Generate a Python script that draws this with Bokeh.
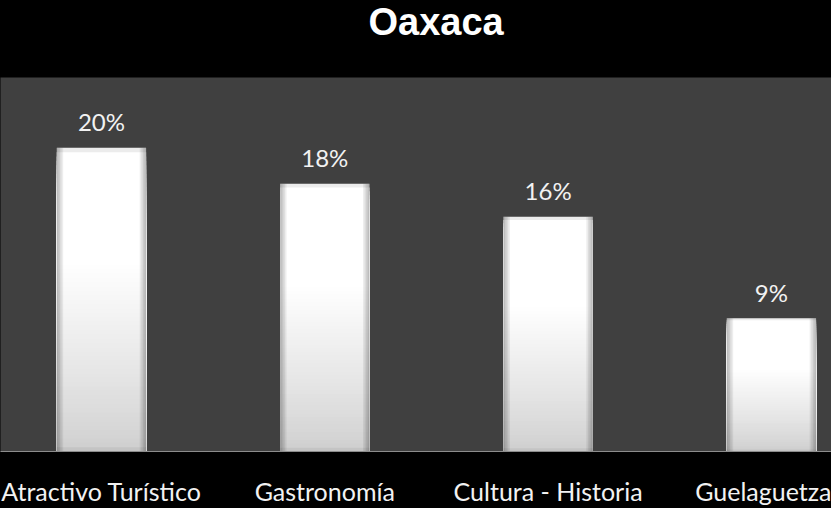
import numpy as np
from bokeh.plotting import figure
from bokeh.layouts import column
from bokeh.models import Range1d, FixedTicker, ColumnDataSource
from bokeh.core.properties import value
from bokeh.embed import file_html
from bokeh.resources import INLINE

title_text = "Oaxaca"
categories = ["Atractivo Turístico", "Gastronomía", "Cultura - Historia", "Guelaguetza"]
shares = [20.3, 17.9, 15.7, 8.9]
share_labels = ["20%", "18%", "16%", "9%"]

positions = list(range(len(categories)))
BAR_W = 0.4

# title band
t = figure(width=831, height=77, output_backend="svg", toolbar_location=None,
           x_axis_location=None, y_axis_location=None,
           min_border_left=0, min_border_right=0, min_border_top=0, min_border_bottom=0,
           background_fill_color="#000000", border_fill_color="#000000",
           outline_line_color=None, styles={"background-color": "#000000"})
t.grid.visible = False
t.title.text = title_text
t.title.text_font = "Liberation Sans"
t.title.text_font_style = "bold"
t.title.text_font_size = "38px"
t.title.text_color = "#ffffff"
t.title.align = "left"
t.title.offset = 368
t.title.vertical_align = "top"
t.title.standoff = 0

p = figure(width=831, height=431, output_backend="svg", toolbar_location=None,
           x_range=Range1d(-0.452, 3.269), y_range=Range1d(0, 25),
           y_axis_location=None, min_border_left=0, min_border_right=0,
           min_border_top=0, min_border_bottom=54,
           background_fill_color="#404040", border_fill_color="#000000",
           outline_line_color=None, styles={"background-color": "#000000"})
p.grid.visible = False


def shade(tt):
    if tt < 0.02:
        g = 188 + 22 * (tt / 0.02)
    elif tt < 0.62:
        g = 208 + 47 * ((tt - 0.02) / 0.60) ** 0.85
    elif tt > 0.988:
        g = 236
    else:
        g = 255
    g = int(round(min(255, g)))
    return "#%02x%02x%02x" % (g, g, g)


N = 70
gx, gtop, gcol = [], [], []
for k in reversed(range(N)):
    tt = (k + 0.5) / N
    for x, v in zip(positions, shares):
        gx.append(x)
        gtop.append(v * (k + 1) / N)
        gcol.append(shade(tt))
grad = ColumnDataSource(dict(x=gx, top=gtop, color=gcol))
p.vbar(x="x", top="top", bottom=0, width=BAR_W, fill_color="color",
       line_color=None, source=grad)

# side bevels
d = BAR_W * 0.018
sx, sw, st = [], [], []
for j in range(1, 5):
    w = d * j
    for x, v in zip(positions, shares):
        sx += [x - BAR_W / 2 + w / 2, x + BAR_W / 2 - w / 2]
        sw += [w, w]
        st += [v, v]
side = ColumnDataSource(dict(x=sx, w=sw, top=st))
p.vbar(x="x", top="top", bottom=0, width="w", fill_color="black",
       fill_alpha=0.07, line_color=None, source=side)

p.text(x=positions, y=shares, text=share_labels, y_offset=-26,
       text_align="center", text_baseline="alphabetic",
       text_font=value("Lato"), text_font_size="24px", text_color="#f2f2f2")

p.xaxis.ticker = FixedTicker(ticks=positions)
p.xaxis.major_label_overrides = {i: c for i, c in zip(positions, categories)}
p.xaxis.major_tick_line_color = None
p.xaxis.major_tick_out = 0
p.xaxis.major_tick_in = 0
p.xaxis.minor_tick_line_color = None
p.xaxis.axis_line_color = "#8c8c8c"
p.xaxis.major_label_text_font = "Lato"
p.xaxis.major_label_text_font_size = "25px"
p.xaxis.major_label_text_color = "#f2f2f2"
p.xaxis.major_label_standoff = 24

layout = column(t, p, spacing=0, styles={"background-color": "#000000"})
open("out.html", "w").write(file_html(layout, INLINE))
